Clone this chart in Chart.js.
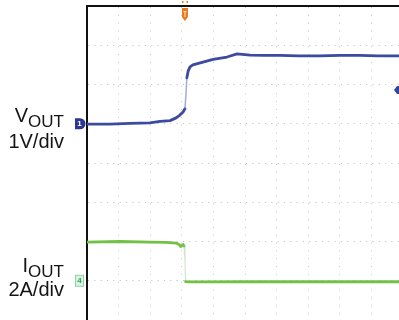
<!DOCTYPE html>
<html>
<head>
<meta charset="utf-8">
<script src="https://cdn.jsdelivr.net/npm/chart.js@4.4.1/dist/chart.umd.min.js"></script>
<style>
  html, body { margin: 0; padding: 0; background: #fff; overflow: hidden; }
  #wrap { position: relative; width: 399px; height: 320px; }
  canvas { position: absolute; left: 0; top: 0; }
  .lab {
    position: absolute; right: 335px;
    font-family: "Liberation Sans", Arial, sans-serif;
    font-size: 20px; line-height: 20px; color: #151515;
    white-space: nowrap; text-align: right;
  }
  .lab sub { font-size: 17px; vertical-align: baseline; position: relative; top: 5px; }
</style>
</head>
<body>
<div id="wrap">
  <canvas id="scope" width="399" height="320"></canvas>
  <div class="lab" style="top:105px">V<sub>OUT</sub></div>
  <div class="lab" style="top:131px">1V/div</div>
  <div class="lab" style="top:255px">I<sub>OUT</sub></div>
  <div class="lab" style="top:279px">2A/div</div>
</div>
<script>
// Time axis in horizontal divisions (screen shows 0 .. ~9.87 div)
const voutTime  = [0, 0.73, 1.36, 1.99, 2.31, 2.63, 2.82, 2.94, 3.04, 3.10, 3.13, 3.16, 3.20, 3.26, 3.35, 3.67, 3.99, 4.43, 4.75, 5.16, 5.60, 6.11, 6.70, 7.37, 8.00, 8.64, 9.20, 9.87];
// Output voltage, volts (1 V/div)
const voutVolts = [-0.01, -0.01, 0.01, 0.02, 0.06, 0.08, 0.15, 0.22, 0.30, 0.38, 0.73, 1.17, 1.34, 1.45, 1.50, 1.57, 1.64, 1.70, 1.78, 1.75, 1.74, 1.74, 1.73, 1.73, 1.74, 1.74, 1.73, 1.73];

const ioutTime  = [0, 1.04, 2.0, 2.5, 2.82, 2.91, 2.97, 3.04, 3.07, 3.10, 3.12, 3.20, 5.0, 7.0, 9.87];
// Output current, amps (2 A/div)
const ioutAmps  = [1.97, 2.0, 1.97, 1.96, 1.92, 1.85, 1.75, 1.85, 1.77, 1.06, -0.04, -0.06, -0.05, -0.05, -0.05];

// Screen markers: trigger position (div), trigger level (V), channel grounds
const triggerTime  = 3.10;
const triggerLevel = 0.86;
const chGround     = { vout: 0, iout: 0 };

const toPoints = (xs, ys) => xs.map((x, i) => ({ x, y: ys[i] }));

// Fast edges are drawn faint, like a scope's sparse samples on a steep transition
const steep = (ctx) => {
  const dx = Math.abs(ctx.p1.x - ctx.p0.x), dy = Math.abs(ctx.p1.y - ctx.p0.y);
  return dy > 8 && dy > 3 * dx;
};

const scopeMarkers = {
  id: 'scopeMarkers',
  afterDraw(chart) {
    const { ctx, chartArea: a, scales } = chart;
    const yV = scales.yV, yI = scales.yI, x = scales.x;
    ctx.save();

    // Channel 1 ground tag
    let cy = yV.getPixelForValue(chGround.vout);
    let lx = a.left - 12;
    ctx.fillStyle = '#2b3893';
    ctx.beginPath();
    ctx.moveTo(lx, cy - 5.5);
    ctx.lineTo(lx + 5, cy - 5.5);
    ctx.arc(lx + 5, cy, 5.5, -Math.PI / 2, Math.PI / 2);
    ctx.lineTo(lx, cy + 5.5);
    ctx.closePath();
    ctx.fill();
    ctx.fillStyle = '#fff';
    ctx.font = 'bold 8px "Liberation Sans", Arial, sans-serif';
    ctx.textAlign = 'center';
    ctx.textBaseline = 'middle';
    ctx.fillText('1', lx + 4.5, cy + 0.5);

    // Channel 4 ground tag
    cy = yI.getPixelForValue(chGround.iout);
    ctx.fillStyle = '#d9f2e2';
    ctx.strokeStyle = '#8fd3a8';
    ctx.lineWidth = 1;
    ctx.fillRect(lx + 0.5, cy - 5.5, 8, 11);
    ctx.strokeRect(lx + 0.5, cy - 5.5, 8, 11);
    ctx.fillStyle = '#3f9a60';
    ctx.fillText('4', lx + 4.5, cy + 0.5);

    // Trigger position marker at top
    const tx = x.getPixelForValue(triggerTime);
    ctx.fillStyle = '#e9791c';
    ctx.beginPath();
    ctx.moveTo(tx - 3, a.top + 2);
    ctx.lineTo(tx + 3, a.top + 2);
    ctx.lineTo(tx + 3, a.top + 11);
    ctx.lineTo(tx, a.top + 15);
    ctx.lineTo(tx - 3, a.top + 11);
    ctx.closePath();
    ctx.fill();
    ctx.fillRect(tx - 3, a.top - 5, 1.5, 2);
    ctx.fillRect(tx + 1.5, a.top - 5, 1.5, 2);
    ctx.strokeStyle = '#fde3c8';
    ctx.lineWidth = 1;
    ctx.beginPath();
    ctx.moveTo(tx - 1.5, a.top + 5.5);
    ctx.lineTo(tx + 1.5, a.top + 5.5);
    ctx.moveTo(tx, a.top + 5.5);
    ctx.lineTo(tx, a.top + 11);
    ctx.stroke();

    // Trigger level marker on the right edge
    const ty = yV.getPixelForValue(triggerLevel);
    const rx = a.right - 5;
    ctx.fillStyle = '#3442a0';
    ctx.beginPath();
    ctx.moveTo(rx, ty);
    ctx.lineTo(rx + 3, ty - 4);
    ctx.lineTo(rx + 9, ty - 4);
    ctx.lineTo(rx + 9, ty + 4);
    ctx.lineTo(rx + 3, ty + 4);
    ctx.closePath();
    ctx.fill();

    ctx.restore();
  }
};

new Chart(document.getElementById('scope'), {
  type: 'line',
  data: {
    datasets: [
      {
        label: 'VOUT',
        data: toPoints(voutTime, voutVolts),
        yAxisID: 'yV',
        borderColor: '#3c4aa0',
        borderWidth: 2.8,
        pointRadius: 0,
        tension: 0,
        borderJoinStyle: 'round',
        borderCapStyle: 'round',
        segment: {
          borderColor: (c) => steep(c) ? 'rgba(90,102,185,0.55)' : undefined,
          borderWidth: (c) => steep(c) ? 1.5 : undefined
        }
      },
      {
        label: 'IOUT',
        data: toPoints(ioutTime, ioutAmps),
        yAxisID: 'yI',
        borderColor: '#72c147',
        borderWidth: 2.8,
        pointRadius: 0,
        tension: 0,
        borderJoinStyle: 'round',
        borderCapStyle: 'round',
        segment: {
          borderColor: (c) => steep(c) ? 'rgba(150,200,140,0.45)' : undefined,
          borderWidth: (c) => steep(c) ? 1.2 : undefined
        }
      }
    ]
  },
  options: {
    responsive: false,
    animation: false,
    devicePixelRatio: 1,
    layout: { padding: { left: 87, top: 6, right: 0, bottom: 0 } },
    plugins: { legend: { display: false }, tooltip: { enabled: false } },
    scales: {
      x: {
        type: 'linear',
        position: 'top',
        min: 0,
        max: 9.873,
        ticks: { display: false, stepSize: 1, includeBounds: false },
        grid: { color: '#c6c6c6', lineWidth: 1, drawTicks: false },
        border: { display: true, color: '#111', width: 2, dash: [1, 6.85] }
      },
      yV: {
        type: 'linear',
        position: 'left',
        min: -5,
        max: 3,
        ticks: { display: false, stepSize: 1 },
        grid: { color: '#c6c6c6', lineWidth: 1, drawTicks: false },
        border: { display: true, color: '#111', width: 2, dash: [1.2, 5.12] }
      },
      yI: {
        type: 'linear',
        position: 'right',
        display: false,
        min: -2,
        max: 14
      }
    }
  },
  plugins: [scopeMarkers]
});
</script>
</body>
</html>
